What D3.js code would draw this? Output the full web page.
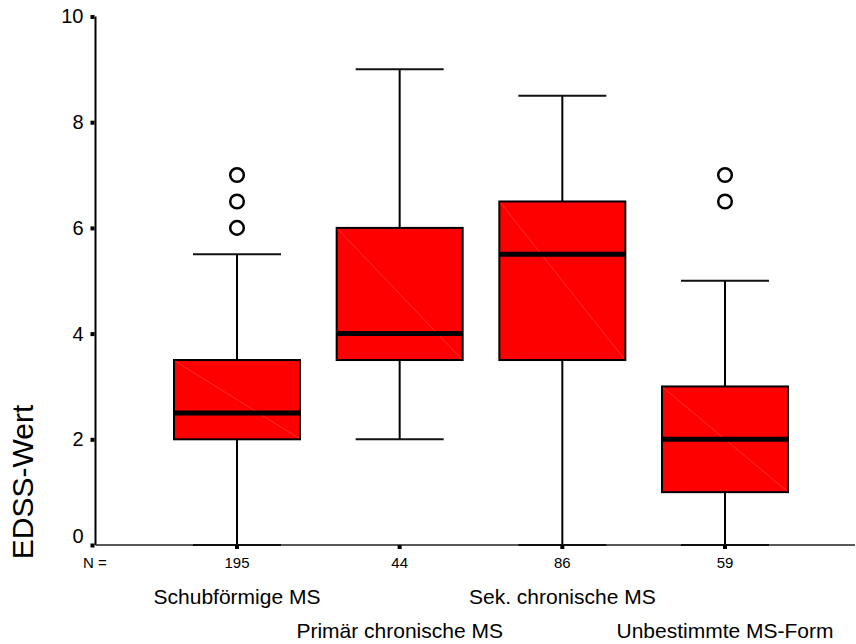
<!DOCTYPE html>
<html>
<head>
<meta charset="utf-8">
<script src="https://cdn.jsdelivr.net/npm/d3@7"></script>
<style>
  html, body { margin: 0; padding: 0; background: #fff; }
  svg { display: block; font-family: Arial, "Liberation Sans", sans-serif; }
</style>
</head>
<body>
<svg id="chart" width="856" height="644"></svg>
<script>
// EDSS distribution per MS course
const categories = ["Schubförmige MS", "Primär chronische MS", "Sek. chronische MS", "Unbestimmte MS-Form"];
const counts = [195, 44, 86, 59];
const whiskerLow = [0, 2, 0, 0];
const q1 = [2, 3.5, 3.5, 1];
const medians = [2.5, 4, 5.5, 2];
const q3 = [3.5, 6, 6.5, 3];
const whiskerHigh = [5.5, 9, 8.5, 5];
const outliers = [[6, 6.5, 7], [], [], [6.5, 7]];
const yTicks = [0, 2, 4, 6, 8, 10];

const svg = d3.select("#chart");
const plotLeft = 95.5, plotRight = 855, plotTop = 16.5, plotBottom = 545;

const x = d3.scalePoint().domain(categories).range([237, 725]);
const y = d3.scaleLinear().domain([0, 10]).range([plotBottom, plotTop]);

const boxW = 126;
const capW = 88;

const data = categories.map((c, i) => ({
  cat: c, n: counts[i], lo: whiskerLow[i], q1: q1[i], med: medians[i], q3: q3[i], hi: whiskerHigh[i], out: outliers[i]
}));
const cx = d => x(d.cat);

// y axis
const yAxis = d3.axisLeft(y).tickValues(yTicks).tickSize(0).tickPadding(12);
const gy = svg.append("g").attr("transform", `translate(${plotLeft},0)`).call(yAxis);
gy.select(".domain").attr("stroke", "#000").attr("stroke-width", 2).attr("d", `M0,${plotTop}V${plotBottom}`);
gy.selectAll(".tick text").attr("font-size", 20).attr("fill", "#000").attr("font-family", "Arial, 'Liberation Sans', sans-serif");
// the bottom label sits a little above the x axis line
gy.selectAll(".tick text").filter(d => d === 0).attr("dy", "-0.15em");
gy.selectAll(".tick").append("rect").attr("x", -5).attr("y", -2).attr("width", 4).attr("height", 4).attr("fill", "#000");

// x axis line
svg.append("line").attr("x1", plotLeft).attr("x2", plotRight).attr("y1", plotBottom).attr("y2", plotBottom)
  .attr("stroke", "#222").attr("stroke-width", 1.5);

const g = svg.append("g");
const groups = g.selectAll("g.box").data(data).join("g").attr("class", "box");

// whiskers
groups.append("line").attr("x1", cx).attr("x2", cx).attr("y1", d => y(d.hi)).attr("y2", d => y(d.q3))
  .attr("stroke", "#000").attr("stroke-width", 2);
groups.append("line").attr("x1", cx).attr("x2", cx).attr("y1", d => y(d.q1)).attr("y2", d => y(d.lo))
  .attr("stroke", "#000").attr("stroke-width", 2);
groups.append("line").attr("x1", d => cx(d) - capW / 2).attr("x2", d => cx(d) + capW / 2)
  .attr("y1", d => y(d.hi)).attr("y2", d => y(d.hi)).attr("stroke", "#111").attr("stroke-width", 2);
groups.append("line").attr("x1", d => cx(d) - capW / 2).attr("x2", d => cx(d) + capW / 2)
  .attr("y1", d => y(d.lo)).attr("y2", d => y(d.lo)).attr("stroke", "#111").attr("stroke-width", 2);

// boxes
groups.append("rect").attr("x", d => cx(d) - boxW / 2).attr("width", boxW)
  .attr("y", d => y(d.q3)).attr("height", d => y(d.q1) - y(d.q3))
  .attr("fill", "#ff0000").attr("stroke", "#000").attr("stroke-width", 2);
// faint seam across the fill
groups.append("line").attr("x1", d => cx(d) - boxW / 2 + 1).attr("y1", d => y(d.q3) + 1)
  .attr("x2", d => cx(d) + boxW / 2 - 1).attr("y2", d => y(d.q1) - 1)
  .attr("stroke", "#ff8080").attr("stroke-width", 0.6).attr("opacity", 0.6);
// medians
groups.append("line").attr("x1", d => cx(d) - boxW / 2).attr("x2", d => cx(d) + boxW / 2)
  .attr("y1", d => y(d.med)).attr("y2", d => y(d.med)).attr("stroke", "#000").attr("stroke-width", 5);

// outliers
groups.each(function(d) {
  d3.select(this).selectAll("circle").data(d.out).join("circle")
    .attr("cx", cx(d)).attr("cy", v => y(v)).attr("r", 6.8)
    .attr("fill", "#fff").attr("stroke", "#000").attr("stroke-width", 2.5);
});

// x ticks
groups.append("rect").attr("x", d => cx(d) - 2).attr("y", plotBottom).attr("width", 4).attr("height", 4).attr("fill", "#000");

// N labels
svg.append("text").attr("x", 83).attr("y", 568).attr("font-size", 15).attr("fill", "#000").text("N =");
groups.append("text").attr("x", cx).attr("y", 568).attr("text-anchor", "middle").attr("font-size", 15)
  .attr("fill", "#000").text(d => d.n);

// category labels, staggered on two rows
groups.append("text").attr("x", cx).attr("y", (d, i) => i % 2 === 0 ? 604 : 638)
  .attr("text-anchor", "middle").attr("font-size", 21).attr("fill", "#000").text(d => d.cat);

// y axis title
svg.append("text").attr("transform", "translate(33,482) rotate(-90)").attr("text-anchor", "middle")
  .attr("font-size", 30).attr("fill", "#000").text("EDSS-Wert");
</script>
</body>
</html>
